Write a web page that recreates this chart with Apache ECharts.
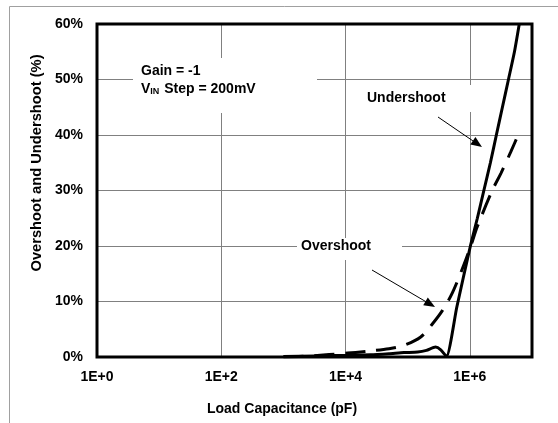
<!DOCTYPE html>
<html>
<head>
<meta charset="utf-8">
<script src="https://cdn.jsdelivr.net/npm/echarts@6/dist/echarts.min.js"></script>
<style>
html,body{margin:0;padding:0;background:#fff;}
#c{width:558px;height:423px;}
</style>
</head>
<body>
<div id="c"></div>
<script>
// Load capacitance (pF) and values (%)
var underCap = [1000, 3200, 10000, 25000, 50000, 87000, 145000, 200000, 280000, 340000, 420000, 617000, 1020000, 1320000, 1680000, 2140000, 2670000, 3340000, 4180000, 5220000, 6240000];
var underVal = [0.1, 0.2, 0.3, 0.4, 0.6, 0.8, 0.9, 1.2, 1.8, 1.3, 0.1, 9.0, 20, 25, 30, 35, 40, 45, 50, 55, 60];
var overCap = [1000, 2750, 10700, 25000, 50000, 87000, 162000, 251000, 363000, 525000, 813000, 1050000, 1320000, 2290000, 3160000, 4570000, 6310000];
var overVal = [0, 0.2, 0.7, 1.1, 1.5, 2.1, 3.6, 6.0, 8.4, 11.6, 16.8, 20.2, 23.5, 30, 33.1, 37, 40.6];
var yTicks = [0, 10, 20, 30, 40, 50, 60];
var xTickExp = [0, 2, 4, 6];

function pairs(xs, ys) { return xs.map(function (x, i) { return [x, ys[i]]; }); }

var FONT = 'Liberation Sans, Arial, sans-serif';
var chart = echarts.init(document.getElementById('c'), null, {renderer: 'canvas'});

function arrowHead(x0, y0, x1, y1, len, hw) {
  var dx = x1 - x0, dy = y1 - y0, L = Math.sqrt(dx * dx + dy * dy);
  var ux = dx / L, uy = dy / L;
  var bx = x1 - ux * len, by = y1 - uy * len;
  return [[x1, y1], [bx - uy * hw, by + ux * hw], [bx + uy * hw, by - ux * hw]];
}

var option = {
  animation: false,
  backgroundColor: '#fff',
  grid: {left: 97, right: 26, top: 24, bottom: 66, containLabel: false},
  xAxis: {
    type: 'log', logBase: 10, min: 1, max: 1e7, interval: 2,
    axisLine: {show: false}, axisTick: {show: false},
    axisLabel: {
      showMaxLabel: false, margin: 13,
      fontFamily: FONT, fontWeight: 'bold', fontSize: 14, color: '#000',
      formatter: function (v) {
        var e = Math.round(Math.log10(v));
        return xTickExp.indexOf(e) >= 0 ? '1E+' + e : '';
      }
    },
    splitLine: {show: true, lineStyle: {color: '#808080', width: 1}}
  },
  yAxis: {
    type: 'value', min: yTicks[0], max: yTicks[yTicks.length - 1], interval: 10,
    axisLine: {show: false}, axisTick: {show: false},
    axisLabel: {margin: 14, fontFamily: FONT, fontWeight: 'bold', fontSize: 14, color: '#000', formatter: '{value}%'},
    splitLine: {show: true, lineStyle: {color: '#808080', width: 1}}
  },
  series: [
    {
      name: 'Undershoot', type: 'line', data: pairs(underCap, underVal),
      showSymbol: false, smooth: 0.2, clip: true,
      lineStyle: {color: '#000', width: 3}, z: 5
    },
    {
      name: 'Overshoot', type: 'line', data: pairs(overCap, overVal),
      showSymbol: false, smooth: 0.3, clip: true,
      lineStyle: {color: '#000', width: 3, type: [20, 11]}, z: 4
    }
  ],
  graphic: [
    {type: 'rect', z: 1, silent: true, shape: {x: 9.5, y: 6.5, width: 700, height: 600}, style: {fill: null, stroke: '#a0a0a0', lineWidth: 1}},
    {type: 'rect', z: 50, shape: {x: 133, y: 58, width: 184, height: 55}, style: {fill: '#fff'}},
    {type: 'rect', z: 50, shape: {x: 356, y: 85, width: 124, height: 27}, style: {fill: '#fff'}},
    {type: 'rect', z: 50, shape: {x: 297, y: 238, width: 105, height: 22}, style: {fill: '#fff'}},
    {type: 'rect', z: 200, shape: {x: 97, y: 24, width: 435, height: 333}, style: {fill: null, stroke: '#000', lineWidth: 3}},
    {type: 'text', z: 60, left: 141, top: 64, style: {text: 'Gain = -1', fontFamily: FONT, fontWeight: 'bold', fontSize: 14, fill: '#000'}},
    {type: 'text', z: 60, left: 141, top: 82, style: {
      text: 'V{s|IN} Step = 200mV',
      fontFamily: FONT, fontWeight: 'bold', fontSize: 14, fill: '#000',
      rich: {s: {fontFamily: FONT, fontWeight: 'bold', fontSize: 9, fill: '#000', verticalAlign: 'bottom', padding: [6, 1, 0, 0]}}
    }},
    {type: 'text', z: 60, left: 367, top: 91, style: {text: 'Undershoot', fontFamily: FONT, fontWeight: 'bold', fontSize: 14, fill: '#000'}},
    {type: 'text', z: 60, left: 301, top: 239, style: {text: 'Overshoot', fontFamily: FONT, fontWeight: 'bold', fontSize: 14, fill: '#000'}},
    {type: 'line', z: 60, shape: {x1: 438, y1: 117, x2: 476, y2: 143}, style: {stroke: '#000', lineWidth: 1}},
    {type: 'polygon', z: 60, shape: {points: arrowHead(438, 117, 482, 147, 11, 4.5)}, style: {fill: '#000'}},
    {type: 'line', z: 60, shape: {x1: 372, y1: 270, x2: 429, y2: 303.5}, style: {stroke: '#000', lineWidth: 1}},
    {type: 'polygon', z: 60, shape: {points: arrowHead(372, 270, 435, 307, 11, 4.5)}, style: {fill: '#000'}},
    {type: 'text', z: 60, x: 282, y: 409, style: {text: 'Load Capacitance (pF)', fontFamily: FONT, fontWeight: 'bold', fontSize: 14, fill: '#000', align: 'center', verticalAlign: 'middle'}},
    {type: 'text', z: 60, x: 37, y: 163, rotation: Math.PI / 2, style: {text: 'Overshoot and Undershoot (%)', fontFamily: FONT, fontWeight: 'bold', fontSize: 14.7, fill: '#000', align: 'center', verticalAlign: 'middle'}}
  ]
};
chart.setOption(option);
</script>
</body>
</html>
